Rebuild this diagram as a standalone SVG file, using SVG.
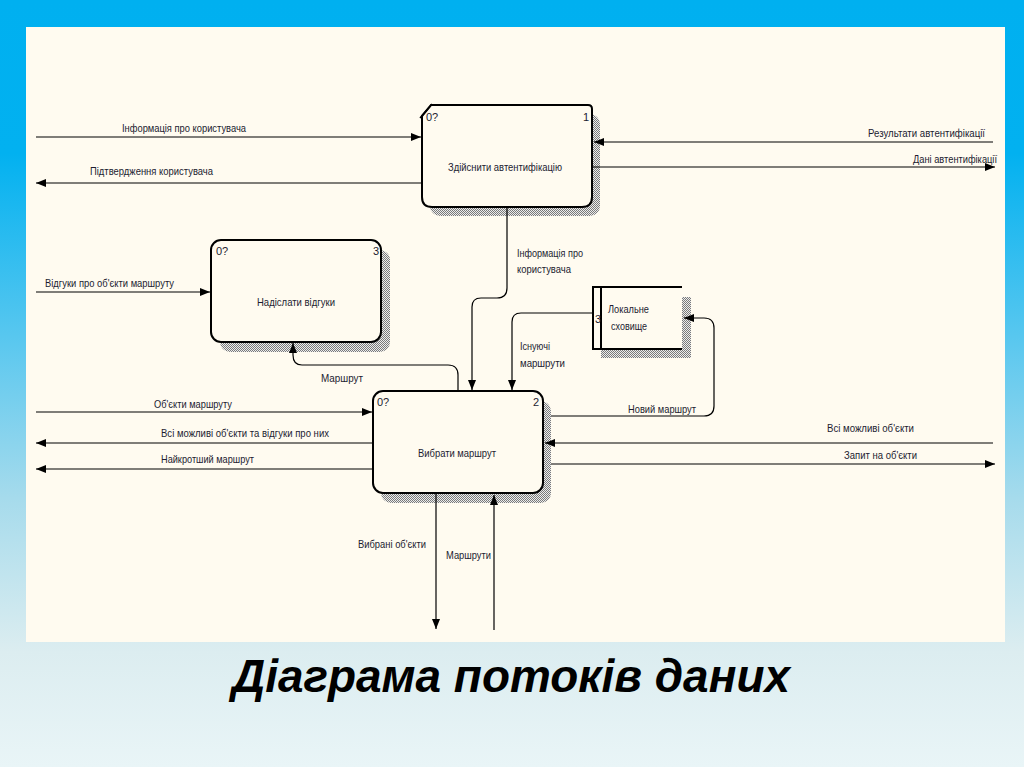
<svg xmlns="http://www.w3.org/2000/svg" width="1024" height="767" viewBox="0 0 1024 767">
<style>
.lbl{font-family:"Liberation Sans",Arial,sans-serif;font-size:11px;fill:#1c1c30}
.num{font-family:"Liberation Sans",Arial,sans-serif;font-size:11px;fill:#1c1c30}
.node{fill:#fffbf0;stroke:#000;stroke-width:2}
.shadow{fill:url(#hatch)}
.conn{fill:none;stroke:#000;stroke-width:1.2}
.title{font-family:"Liberation Sans",Arial,sans-serif;font-size:46px;font-weight:bold;font-style:italic;fill:#000}
</style>
<defs>
<linearGradient id="bg" x1="0" y1="0" x2="0" y2="1">
<stop offset="0" stop-color="#00b0f0"/>
<stop offset="0.2" stop-color="#02b1f0"/>
<stop offset="0.45" stop-color="#5cc8ef"/>
<stop offset="0.65" stop-color="#a6dbec"/>
<stop offset="0.85" stop-color="#dcedf0"/>
<stop offset="1" stop-color="#e9f5f7"/>
</linearGradient>
<pattern id="hatch" width="2" height="2" patternUnits="userSpaceOnUse">
<rect width="2" height="2" fill="#ececec"/>
<rect x="0" y="0" width="1" height="1" fill="#7a7a7a"/>
<rect x="1" y="1" width="1" height="1" fill="#7a7a7a"/>
</pattern>
<marker id="arr" viewBox="0 0 10 8" refX="10" refY="4" markerWidth="10" markerHeight="8" markerUnits="userSpaceOnUse" orient="auto">
<path d="M0,0 L10,4 L0,8 z" fill="#000"/>
</marker>
</defs>
<rect x="0" y="0" width="1024" height="767" fill="url(#bg)"/>
<rect x="26" y="27" width="979" height="615" fill="#fffbf0"/>

<g id="node1">
<rect class="shadow" x="430" y="114" width="170" height="102" rx="10"/>
<path class="node" d="M422,116 L431,105 H588 Q592,105 592,109 V197 Q592,207 582,207 H432 Q422,207 422,197 Z"/>
<line x1="420" y1="118" x2="432" y2="104" stroke="#000" stroke-width="1.5"/>
<text class="num" x="426" y="121">0?</text>
<text class="num" x="583" y="121">1</text>
<text class="lbl" x="448" y="171" textLength="114" lengthAdjust="spacingAndGlyphs">Здійснити автентифікацію</text>
</g>

<g id="node3">
<rect class="shadow" x="220" y="250" width="170" height="102" rx="10"/>
<rect class="node" x="211" y="240" width="170" height="102" rx="10"/>
<text class="num" x="216" y="255">0?</text>
<text class="num" x="373" y="255">3</text>
<text class="lbl" x="257" y="306" textLength="78" lengthAdjust="spacingAndGlyphs">Надіслати відгуки</text>
</g>

<g id="node2">
<rect class="shadow" x="381" y="401" width="170" height="102" rx="10"/>
<rect class="node" x="373" y="391" width="170" height="102" rx="10"/>
<text class="num" x="377" y="406">0?</text>
<text class="num" x="533" y="406">2</text>
<text class="lbl" x="418" y="457" textLength="78" lengthAdjust="spacingAndGlyphs">Вибрати маршрут</text>
</g>

<g id="store3">
<rect class="shadow" x="601" y="297" width="90" height="61"/>
<rect x="593" y="287" width="89" height="62" fill="#fffbf0"/>
<path d="M682,287 H593 V349 H682 M601,287 V349" fill="none" stroke="#000" stroke-width="2"/>
<text class="num" x="595" y="323">3</text>
<text class="lbl" x="608" y="313" textLength="41" lengthAdjust="spacingAndGlyphs">Локальне</text>
<text class="lbl" x="611" y="330" textLength="36" lengthAdjust="spacingAndGlyphs">сховище</text>
</g>

<g id="connectors">
<path class="conn" d="M36,137 H421" marker-end="url(#arr)"/>
<path class="conn" d="M422,183 H36" marker-end="url(#arr)"/>
<path class="conn" d="M993,142 H594" marker-end="url(#arr)"/>
<path class="conn" d="M593,167 H995" marker-end="url(#arr)"/>
<path class="conn" d="M507,208 V288 Q507,298 497,298 H481 Q472,298 472,307 V390" marker-end="url(#arr)"/>
<path class="conn" d="M36,292 H210" marker-end="url(#arr)"/>
<path class="conn" d="M458,390 V375 Q458,365 448,365 H302 Q293,365 293,355 V343" marker-end="url(#arr)"/>
<path class="conn" d="M593,313 H521 Q512,313 512,322 V390" marker-end="url(#arr)"/>
<path class="conn" d="M551,416 H704 Q714,416 714,406 V328 Q714,318 704,318 H684" marker-end="url(#arr)"/>
<path class="conn" d="M36,412 H372" marker-end="url(#arr)"/>
<path class="conn" d="M373,443 H36" marker-end="url(#arr)"/>
<path class="conn" d="M373,469 H36" marker-end="url(#arr)"/>
<path class="conn" d="M993,443 H545" marker-end="url(#arr)"/>
<path class="conn" d="M551,464 H995" marker-end="url(#arr)"/>
<path class="conn" d="M436,494 V629" marker-end="url(#arr)"/>
<path class="conn" d="M494,630 V495" marker-end="url(#arr)"/>
</g>

<g id="labels">
<text class="lbl" x="122" y="132" textLength="124" lengthAdjust="spacingAndGlyphs">Інформація про користувача</text>
<text class="lbl" x="90" y="175" textLength="123" lengthAdjust="spacingAndGlyphs">Підтвердження користувача</text>
<text class="lbl" x="868" y="137" textLength="117" lengthAdjust="spacingAndGlyphs">Результати автентифікації</text>
<text class="lbl" x="913" y="163" textLength="84" lengthAdjust="spacingAndGlyphs">Дані автентифікації</text>
<text class="lbl" x="517" y="257" textLength="66" lengthAdjust="spacingAndGlyphs">Інформація про</text>
<text class="lbl" x="517" y="273" textLength="54" lengthAdjust="spacingAndGlyphs">користувача</text>
<text class="lbl" x="45" y="287" textLength="129" lengthAdjust="spacingAndGlyphs">Відгуки про об'єкти маршруту</text>
<text class="lbl" x="321" y="382" textLength="42" lengthAdjust="spacingAndGlyphs">Маршрут</text>
<text class="lbl" x="520" y="350" textLength="30" lengthAdjust="spacingAndGlyphs">Існуючі</text>
<text class="lbl" x="520" y="367" textLength="45" lengthAdjust="spacingAndGlyphs">маршрути</text>
<text class="lbl" x="628" y="413" textLength="68" lengthAdjust="spacingAndGlyphs">Новий маршрут</text>
<text class="lbl" x="154" y="408" textLength="78" lengthAdjust="spacingAndGlyphs">Об'єкти маршруту</text>
<text class="lbl" x="161" y="437" textLength="168" lengthAdjust="spacingAndGlyphs">Всі можливі об'єкти та відгуки про них</text>
<text class="lbl" x="161" y="463" textLength="93" lengthAdjust="spacingAndGlyphs">Найкротший маршрут</text>
<text class="lbl" x="827" y="432" textLength="87" lengthAdjust="spacingAndGlyphs">Всі можливі об'єкти</text>
<text class="lbl" x="844" y="459" textLength="73" lengthAdjust="spacingAndGlyphs">Запит на об'єкти</text>
<text class="lbl" x="358" y="548" textLength="68" lengthAdjust="spacingAndGlyphs">Вибрані об'єкти</text>
<text class="lbl" x="446" y="559" textLength="45" lengthAdjust="spacingAndGlyphs">Маршрути</text>
</g>

<text class="title" x="232" y="692" textLength="558" lengthAdjust="spacingAndGlyphs">Діаграма потоків даних</text>
</svg>
